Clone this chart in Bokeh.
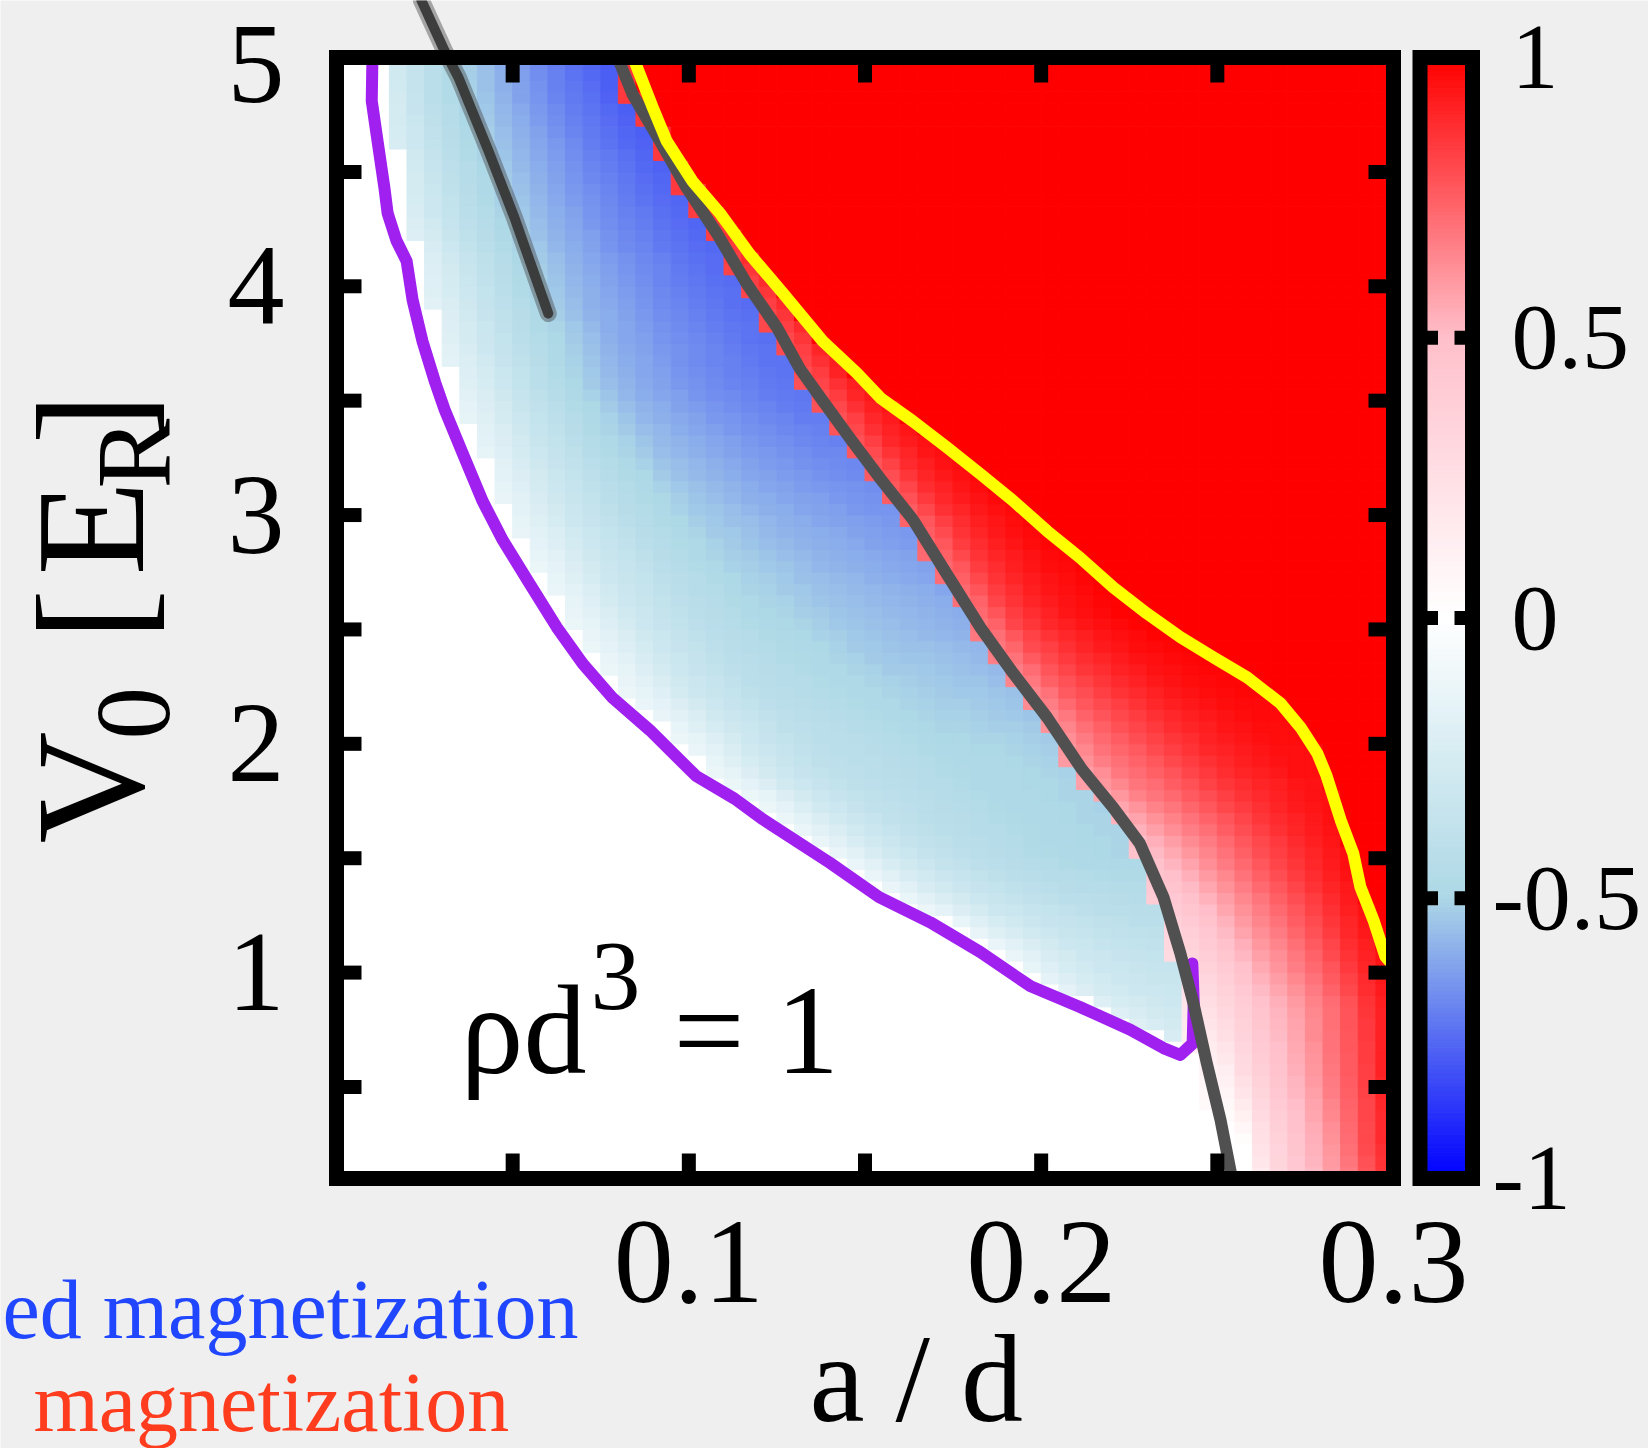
import numpy as np
from bokeh.plotting import figure
from bokeh.models import Range1d, Label, ColumnDataSource, LinearColorMapper
from bokeh.core.properties import value
from bokeh.transform import transform
from bokeh.embed import file_html
from bokeh.resources import INLINE

SERIF = "Liberation Serif"
BG = "#efefef"

# ------------------------------------------------------------------ data
# purple boundary (edge of the blue phase), main branch from top down to its lowest point
purple_x = [0.0102, 0.0100, 0.0116, 0.0136, 0.0145, 0.0170, 0.0199, 0.0216, 0.0244, 0.0280,
            0.0307, 0.0358, 0.0415, 0.0472, 0.0548, 0.0625, 0.0699, 0.0784, 0.0889, 0.1020,
            0.1130, 0.1210, 0.1400, 0.1540, 0.1685, 0.1827, 0.1970, 0.2110, 0.2253, 0.2347, 0.2395]
purple_y = [5.00, 4.81, 4.64, 4.43, 4.32, 4.20, 4.11, 3.94, 3.76, 3.58,
            3.46, 3.27, 3.06, 2.89, 2.70, 2.51, 2.35, 2.20, 2.06, 1.86,
            1.76, 1.67, 1.48, 1.33, 1.22, 1.09, 0.94, 0.85, 0.75, 0.67, 0.64]
# small hook of the purple curve at its lower right end
hook_x = [0.2395, 0.2430, 0.2433, 0.2429]
hook_y = [0.64, 0.69, 0.87, 1.04]

# dark grey boundary between blue and red phases
gray_x = [0.0798, 0.0840, 0.0918, 0.0994, 0.1080, 0.1165, 0.1250, 0.1315, 0.1380, 0.1460,
          0.1543, 0.1636, 0.1733, 0.1827, 0.1920, 0.2017, 0.2115, 0.2205, 0.2280, 0.2347,
          0.2395, 0.2432, 0.2470, 0.2509, 0.2537, 0.2542]
gray_y = [5.00, 4.84, 4.635, 4.43, 4.23, 4.01, 3.82, 3.64, 3.50, 3.33,
          3.16, 2.98, 2.74, 2.51, 2.31, 2.115, 1.89, 1.72, 1.565, 1.33,
          1.085, 0.867, 0.605, 0.356, 0.137, 0.10]

# yellow boundary (fully polarised region beyond it)
yellow_x = [0.0842, 0.0898, 0.0937, 0.1010, 0.1088, 0.1173, 0.1267, 0.1380, 0.1477, 0.1545,
            0.1636, 0.1733, 0.1827, 0.1920, 0.2017, 0.2110, 0.2205, 0.2300, 0.2395, 0.2489,
            0.2585, 0.2680, 0.2736, 0.2784, 0.2810, 0.2850, 0.2886, 0.2906, 0.2943, 0.2977, 0.3000]
yellow_y = [5.00, 4.78, 4.635, 4.46, 4.32, 4.14, 3.97, 3.76, 3.62, 3.51,
            3.41, 3.295, 3.18, 3.063, 2.93, 2.814, 2.683, 2.57, 2.466, 2.378,
            2.29, 2.176, 2.072, 1.958, 1.86, 1.667, 1.52, 1.374, 1.23, 1.07, 1.03]

# hand-drawn dark stroke in the upper left (it starts above the plot box)
scribble_x = [0.0241, 0.0306, 0.0346, 0.0431, 0.0505, 0.0601]
scribble_y = [5.249, 5.031, 4.913, 4.593, 4.30, 3.881]

# colour readings of the magnetisation map
# blue phase: value at relative position u across the band (purple -> grey) at several heights
BLUE_Y = [0.70, 1.10, 1.50, 1.91, 2.71, 3.55, 4.95]
BLUE_U = [0.0, 0.1, 0.2, 0.35, 0.5, 0.7, 0.9, 1.0]
BLUE_V = [
    [-0.10, -0.14, -0.18, -0.21, -0.23, -0.25, -0.26, -0.26],
    [-0.04, -0.10, -0.16, -0.25, -0.30, -0.35, -0.37, -0.36],
    [-0.06, -0.15, -0.26, -0.36, -0.42, -0.47, -0.50, -0.50],
    [-0.08, -0.15, -0.28, -0.39, -0.42, -0.48, -0.50, -0.52],
    [-0.08, -0.17, -0.30, -0.42, -0.50, -0.56, -0.60, -0.62],
    [-0.10, -0.20, -0.33, -0.48, -0.58, -0.66, -0.72, -0.73],
    [-0.20, -0.28, -0.39, -0.50, -0.58, -0.69, -0.77, -0.80],
]
# red phase: value at distance d to the right of the grey line at several heights
RED_Y = [0.28, 0.86, 1.45, 1.81, 2.57, 3.15, 4.50]
RED_D = [0.0, 0.005, 0.01, 0.02, 0.03, 0.04, 0.05, 0.06]
RED_V = [
    [0.00, 0.00, 0.23, 0.46, 0.61, 0.80, 0.95, 1.00],
    [0.20, 0.27, 0.33, 0.49, 0.60, 0.72, 0.87, 0.97],
    [0.46, 0.50, 0.55, 0.65, 0.75, 0.84, 0.92, 0.97],
    [0.58, 0.62, 0.67, 0.73, 0.80, 0.87, 0.91, 0.95],
    [0.70, 0.74, 0.82, 0.90, 0.95, 0.98, 1.00, 1.00],
    [0.76, 0.80, 0.87, 0.94, 0.98, 1.00, 1.00, 1.00],
    [0.85, 0.90, 0.97, 1.00, 1.00, 1.00, 1.00, 1.00],
]

X_RANGE = (0.0, 0.3)
Y_RANGE = (0.1, 5.0)
X_TICKS = [0.05, 0.1, 0.15, 0.2, 0.25, 0.3]
X_LABELS = [0.1, 0.2, 0.3]
Y_TICKS = [0.5, 1, 1.5, 2, 2.5, 3, 3.5, 4, 4.5, 5]
Y_LABELS = [1, 2, 3, 4, 5]
CB_RANGE = (-1.0, 1.0)
CB_LABELS = [-1, -0.5, 0, 0.5, 1]
CB_TICKS = [-0.5, 0, 0.5]

# ------------------------------------------------------------------ page geometry (pixels)
W, H = 1648, 1448
FL, FR, FT, FB = 336, 1393, 57, 1178          # plot box (border centre line)
CBL, CBR = 1419.5, 1472                        # colour bar box
kx = (FR - FL) / (X_RANGE[1] - X_RANGE[0])
ky = (FB - FT) / (Y_RANGE[1] - Y_RANGE[0])
kv = (FB - FT) / (CB_RANGE[1] - CB_RANGE[0])


def sx(X):
    return X_RANGE[0] + (X - FL) / kx


def sy(Y):
    return Y_RANGE[1] - (Y - FT) / ky


def sv(Y):
    return CB_RANGE[1] - (Y - FT) / kv


# ------------------------------------------------------------------ palette (gnuplot-like)
stops_v = [-1.0, -0.5, 0.0, 0.5, 1.0]
stops_rgb = [(0, 0, 255), (173, 216, 230), (255, 255, 255), (255, 192, 203), (255, 0, 0)]
pal = []
for i in range(256):
    t = -1 + 2 * i / 255
    rgb = [int(round(np.interp(t, stops_v, [c[ch] for c in stops_rgb]))) for ch in range(3)]
    pal.append("#%02x%02x%02x" % tuple(rgb))
mapper = LinearColorMapper(palette=pal, low=CB_RANGE[0], high=CB_RANGE[1])

# ------------------------------------------------------------------ map cells
xe = np.round(np.arange(0.0, 0.30001, 0.005), 4)
ye = np.round(np.arange(0.10, 5.00001, 0.05), 4)
bt = np.array(BLUE_V)
rt = np.array(RED_V)
cl, cr, cb_, ct, cv = [], [], [], [], []
for j in range(len(ye) - 1):
    yb, yt = ye[j], ye[j + 1]
    yc = 0.5 * (yb + yt)
    bl = [np.interp(yc, BLUE_Y, bt[:, i]) for i in range(len(BLUE_U))]
    rd = [np.interp(yc, RED_Y, rt[:, i]) for i in range(len(RED_D))]
    pl = np.interp(yc, purple_y[::-1], purple_x[::-1]) if yc >= purple_y[-1] else None
    gr = np.interp(yc, gray_y[::-1], gray_x[::-1])
    yl = np.interp(yc, yellow_y[::-1], yellow_x[::-1]) if yc >= yellow_y[-1] else None
    for k in range(len(xe) - 1):
        xl, xr = xe[k], xe[k + 1]
        xc = 0.5 * (xl + xr)
        v = None
        if xr > gr or (hook_y[0] <= yc <= hook_y[-1] and xl >= hook_x[0]):
            if yl is not None and xc > yl:
                v = 1.0
            else:
                v = float(np.interp(max(xc - gr, 0.0), RED_D, rd))
        elif pl is not None and xl >= pl + 0.003:
            u = (xc - pl) / max(gr - pl, 1e-6)
            v = float(np.interp(min(max(u, 0.0), 1.0), BLUE_U, bl))
        if v is not None:
            cl.append(xl); cr.append(xr); cb_.append(yb); ct.append(yt); cv.append(v)

cells = ColumnDataSource(dict(left=cl, right=cr, bottom=cb_, top=ct, v=cv))

# ------------------------------------------------------------------ figure (frame = whole page)
p = figure(width=W, height=H, x_range=Range1d(sx(0), sx(W)), y_range=Range1d(sy(H), sy(0)),
           output_backend="svg", toolbar_location=None,
           x_axis_location=None, y_axis_location=None,
           min_border=0, min_border_left=0, min_border_right=0, min_border_top=0, min_border_bottom=0,
           background_fill_color=BG, border_fill_color=BG, outline_line_color=None)
p.extra_y_ranges = {"cb": Range1d(sv(H), sv(0))}
p.xgrid.visible = False
p.ygrid.visible = False

# white plot area
p.quad(left=X_RANGE[0], right=X_RANGE[1], bottom=Y_RANGE[0], top=Y_RANGE[1],
       fill_color="white", line_color=None)

# magnetisation map
p.quad(left="left", right="right", bottom="bottom", top="top", source=cells,
       fill_color=transform("v", mapper), line_color=transform("v", mapper), line_width=1)

# boundaries
p.line(purple_x + hook_x[1:], purple_y + hook_y[1:], line_width=12, color="#a020f0",
       line_join="round", line_cap="round")
p.line(gray_x, gray_y, line_width=12, color="#505050", line_join="round", line_cap="round")
p.line(yellow_x, yellow_y, line_width=12, color="#ffff00", line_join="round", line_cap="round")
# charcoal-like stroke: soft halo plus darker core
p.line(scribble_x, scribble_y, line_width=17, color="#4a4a4a", alpha=0.45,
       line_join="round", line_cap="round")
p.line(scribble_x, scribble_y, line_width=10, color="#383838", alpha=0.95,
       line_join="round", line_cap="round")

# ticks of the plot box (inward, on all four sides)
TL = 25
tk = dict(line_width=14, line_color="black", line_cap="butt")
p.segment(x0=X_TICKS, x1=X_TICKS, y0=[Y_RANGE[0]] * len(X_TICKS),
          y1=[Y_RANGE[0] + TL / ky] * len(X_TICKS), **tk)
p.segment(x0=X_TICKS, x1=X_TICKS, y0=[Y_RANGE[1]] * len(X_TICKS),
          y1=[Y_RANGE[1] - TL / ky] * len(X_TICKS), **tk)
p.segment(y0=Y_TICKS, y1=Y_TICKS, x0=[X_RANGE[0]] * len(Y_TICKS),
          x1=[X_RANGE[0] + TL / kx] * len(Y_TICKS), **tk)
p.segment(y0=Y_TICKS, y1=Y_TICKS, x0=[X_RANGE[1]] * len(Y_TICKS),
          x1=[X_RANGE[1] - TL / kx] * len(Y_TICKS), **tk)

# plot box border
p.quad(left=X_RANGE[0], right=X_RANGE[1], bottom=Y_RANGE[0], top=Y_RANGE[1],
       fill_color=None, line_color="black", line_width=15, line_join="miter")

# tick labels (the top one is nudged down a little so it stays inside the page)
p.text(x=X_LABELS, y=[sy(1262)] * len(X_LABELS), text=["%g" % t for t in X_LABELS],
       text_font=value(SERIF), text_font_size=value("120px"), text_color="black",
       text_align="center", text_baseline="middle")
p.text(x=[sx(284)] * len(Y_LABELS), y=Y_LABELS, text=["%g" % t for t in Y_LABELS],
       y_offset=[7 if t == Y_RANGE[1] else 0 for t in Y_LABELS],
       text_font=value(SERIF), text_font_size=value("114px"), text_color="black",
       text_align="right", text_baseline="middle")

# ------------------------------------------------------------------ colour bar
cbl, cbr = sx(CBL), sx(CBR)
nseg = 256
gb = [CB_RANGE[0] + (CB_RANGE[1] - CB_RANGE[0]) * i / nseg for i in range(nseg)]
gt = [CB_RANGE[0] + (CB_RANGE[1] - CB_RANGE[0]) * (i + 1) / nseg for i in range(nseg)]
gsrc = ColumnDataSource(dict(bottom=gb, top=gt, v=[0.5 * (a + b) for a, b in zip(gb, gt)]))
p.quad(left=cbl, right=cbr, bottom="bottom", top="top", source=gsrc, y_range_name="cb",
       fill_color=transform("v", mapper), line_color=transform("v", mapper), line_width=1)
CTL = 18
p.segment(y0=CB_TICKS, y1=CB_TICKS, x0=[cbl] * len(CB_TICKS), x1=[cbl + CTL / kx] * len(CB_TICKS),
          y_range_name="cb", **tk)
p.segment(y0=CB_TICKS, y1=CB_TICKS, x0=[cbr] * len(CB_TICKS), x1=[cbr - CTL / kx] * len(CB_TICKS),
          y_range_name="cb", **tk)
p.quad(left=cbl, right=cbr, bottom=CB_RANGE[0], top=CB_RANGE[1], y_range_name="cb",
       fill_color=None, line_color="black", line_width=15, line_join="miter")
p.text(x=[sx(1492) if t < 0 else sx(1511) for t in CB_LABELS], y=CB_LABELS,
       text=["%g" % t for t in CB_LABELS], y_range_name="cb",
       text_font=value(SERIF), text_font_size=value("94px"), text_color="black",
       text_align="left", text_baseline="middle")


# ------------------------------------------------------------------ texts
def lab(text, X, Y, size, color="black", angle=0.0):
    # (X, Y): page pixel of the start of the text line, Y is the middle of the line
    p.add_layout(Label(x=sx(X), y=sy(Y), text=text, text_font=SERIF, text_font_size=f"{size}px",
                       text_color=color, angle=angle, text_align="left",
                       text_baseline="middle"))


# rho d^3 = 1
lab("ρd", 460, 1030, 126)
lab("3", 590, 976, 100)
lab("= 1", 673, 1030, 126)

# x axis title
lab("a / d", 809, 1379, 124)

# y axis title V_0 [E_R], rotated (X is the middle of the rotated line)
R90 = np.pi / 2
lab("V", 90, 843, 155, angle=R90)
lab("0", 133, 739, 105, angle=R90)
lab("[", 90, 640, 155, angle=R90)
lab("E", 90, 575, 155, angle=R90)
lab("R", 133, 488, 105, angle=R90)
lab("]", 90, 444, 155, angle=R90)

# slide texts around the chart
lab("ed magnetization", 2, 1309, 84, color="#2046ff")
lab("magnetization", 33, 1402, 84, color="#ff3c1e")

open("out.html", "w").write(file_html(p, INLINE))
